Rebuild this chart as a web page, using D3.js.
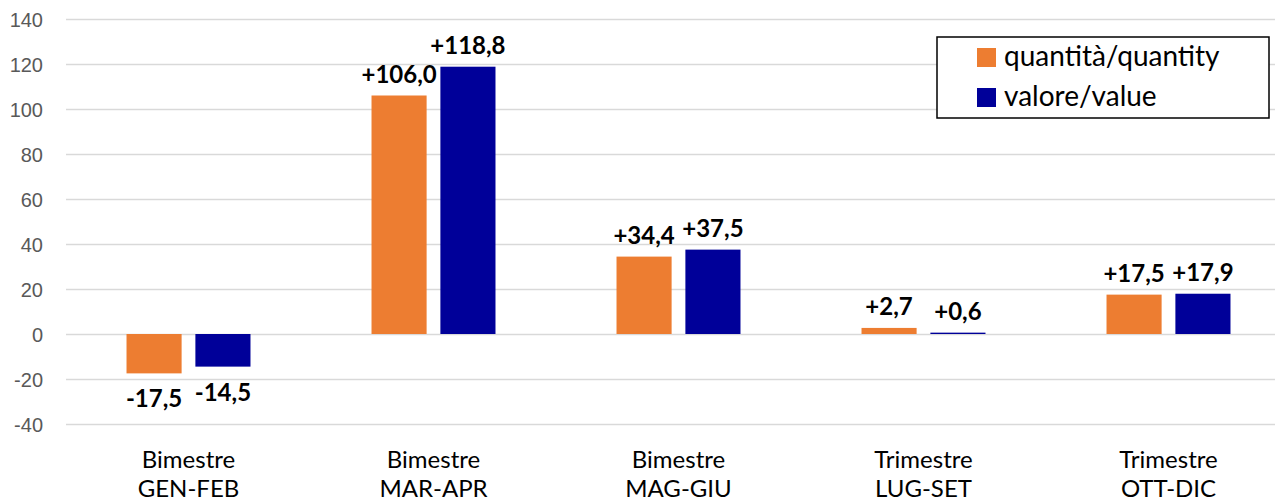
<!DOCTYPE html>
<html lang="it">
<head>
  <meta charset="UTF-8">
  <title>Variazione quantità / valore</title>
  <script src="https://d3js.org/d3.v7.min.js"></script>
  <style>
    body { margin: 0; background: #fff; }
    svg { display: block; font-family: Lato, "Open Sans", sans-serif; }
    .grid line { stroke: #d9d9d9; stroke-width: 1.5px; }
    .grid text { fill: #595959; font-size: 20px; }
    .cat { fill: #000; font-size: 24px; }
    .lbl { fill: #000; font-size: 24px; font-weight: bold; }
    .legend text { font-size: 28px; fill: #000; }
  </style>
</head>
<body>
<svg width="1275" height="502"></svg>
<script>
  // data
  const periods = ["Bimestre", "Bimestre", "Bimestre", "Trimestre", "Trimestre"];
  const months = ["GEN-FEB", "MAR-APR", "MAG-GIU", "LUG-SET", "OTT-DIC"];
  const seriesNames = ["quantità/quantity", "valore/value"];
  const quantity = [-17.5, 106.0, 34.4, 2.7, 17.5];
  const value = [-14.5, 118.8, 37.5, 0.6, 17.9];
  const yTicks = [-40, -20, 0, 20, 40, 60, 80, 100, 120, 140];
  const colors = ["#ED7D31", "#000099"];

  const svg = d3.select("svg");
  const plotLeft = 66, plotRight = 1291, plotTop = 19, plotBottom = 424;

  const x0 = d3.scaleBand()
    .domain(months)
    .range([plotLeft, plotRight])
    .paddingInner(0.494)
    .paddingOuter(0.247);

  const x1 = d3.scaleBand()
    .domain(seriesNames)
    .range([0, x0.bandwidth()])
    .paddingInner(0.2);

  const y = d3.scaleLinear().domain([-40, 140]).range([plotBottom, plotTop]);

  const itLocale = d3.formatLocale({ decimal: ",", thousands: ".", grouping: [3], currency: ["€", ""], minus: "-" });
  const fmt = itLocale.format("+.1f");

  // gridlines + tick labels
  const grid = svg.append("g")
    .attr("class", "grid")
    .attr("transform", `translate(${plotLeft},0)`)
    .call(d3.axisLeft(y).tickValues(yTicks).tickFormat(itLocale.format("d"))
      .tickSize(-(1275 - plotLeft)).tickPadding(23));
  grid.select(".domain").remove();
  grid.selectAll("text").attr("dy", "0.35em");

  const rows = months.map((m, i) => ({
    month: m,
    period: periods[i],
    vals: [quantity[i], value[i]]
  }));

  const groups = svg.append("g").selectAll("g")
    .data(rows)
    .join("g")
    .attr("transform", d => `translate(${x0(d.month)},0)`);

  const bars = groups.selectAll("g")
    .data(d => d.vals.map((v, j) => ({ key: seriesNames[j], v, j })))
    .join("g");

  bars.append("rect")
    .attr("x", d => x1(d.key))
    .attr("width", x1.bandwidth())
    .attr("y", d => y(Math.max(0, d.v)))
    .attr("height", d => Math.abs(y(d.v) - y(0)))
    .attr("fill", d => colors[d.j]);

  bars.append("text")
    .attr("class", "lbl")
    .attr("text-anchor", "middle")
    .attr("x", d => x1(d.key) + x1.bandwidth() / 2)
    .attr("y", d => d.v >= 0 ? y(d.v) - 13 : y(d.v) + 34)
    .text(d => fmt(d.v));

  // category labels
  const cats = svg.append("g").selectAll("text")
    .data(rows)
    .join("text")
    .attr("class", "cat")
    .attr("text-anchor", "middle")
    .attr("x", d => x0(d.month) + x0.bandwidth() / 2)
    .attr("y", 468);
  cats.append("tspan").text(d => d.period);
  cats.append("tspan")
    .attr("x", d => x0(d.month) + x0.bandwidth() / 2)
    .attr("dy", 29)
    .text(d => d.month);

  // legend
  const legend = svg.append("g").attr("class", "legend");
  legend.append("rect")
    .attr("x", 937).attr("y", 37)
    .attr("width", 332).attr("height", 81)
    .attr("fill", "#fff")
    .attr("stroke", "#000")
    .attr("stroke-width", 1.5);
  const items = legend.selectAll("g.item")
    .data(seriesNames)
    .join("g")
    .attr("class", "item")
    .attr("transform", (d, i) => `translate(977,${48 + i * 40})`);
  items.append("rect")
    .attr("width", 19).attr("height", 19)
    .attr("fill", (d, i) => colors[i]);
  items.append("text")
    .attr("x", 27).attr("y", 18)
    .text(d => d);
</script>
</body>
</html>
